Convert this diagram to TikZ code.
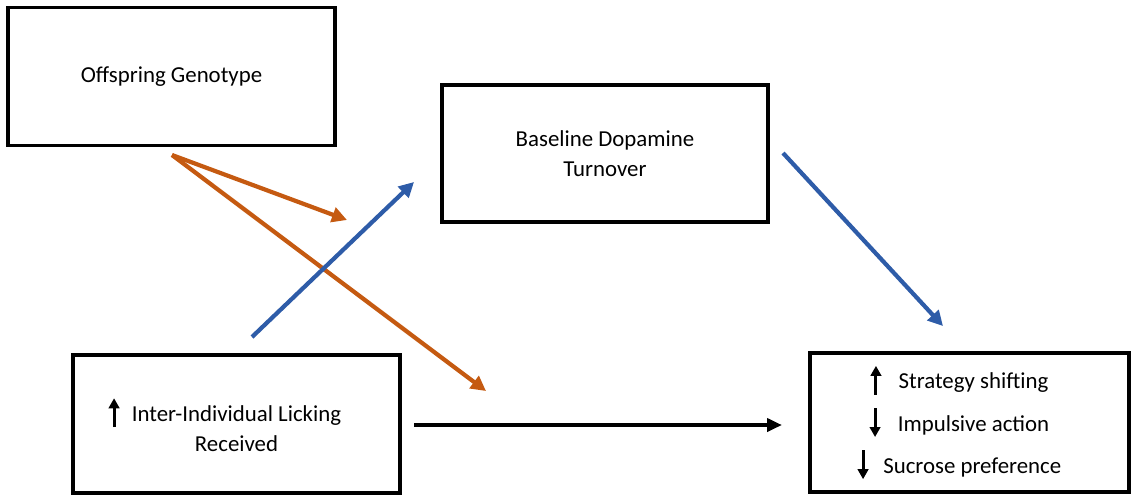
\documentclass[tikz,border=0pt]{standalone}
\usepackage{fontspec}
\setmainfont{Carlito}
\usepackage{tikz}
\usetikzlibrary{arrows.meta}
\definecolor{pathorange}{RGB}{197,90,17}
\definecolor{pathblue}{RGB}{46,92,168}
\tikzstyle{factor} = [rectangle, minimum width=6.54cm, minimum height=2.76cm, text centered, align=center, draw=black, line width=2pt, font=\fontsize{13}{17}\selectfont]
\tikzstyle{arrow} = [line width=2.4pt, -{Triangle[length=0.3cm,width=0.3cm]}]
\tikzstyle{updown} = [line width=1.7pt, -{Triangle[length=0.2cm,width=0.21cm]}]
\newcommand{\upa}{\tikz[baseline=0cm]\draw[updown] (0,-0.12cm) -- (0,0.46cm);}
\newcommand{\dna}{\tikz[baseline=0cm]\draw[updown] (0,0.46cm) -- (0,-0.12cm);}
\newcommand{\padr}{\rule{0.4cm}{0pt}}

\begin{document}
\begin{tikzpicture}[x=0.02cm, y=-0.02cm]
        \useasboundingbox (0,0) rectangle (1131,495);
        \node (geno) [factor] at (171.5,76.5) {Offspring Genotype};
        \node (dopa) [factor, minimum width=6.52cm, minimum height=2.74cm] at (605,153.5) {Baseline Dopamine\\Turnover};
        \node (lick) [factor] at (236.5,424) {\llap{\upa\hspace{0.25cm}}Inter-Individual Licking\\Received};
        \node (outc) [factor, minimum width=6.38cm, minimum height=2.78cm, font=\fontsize{13}{24}\selectfont] at (969.5,422.5) {\upa\hspace{0.35cm}Strategy shifting\padr\\\dna\hspace{0.35cm}Impulsive action\padr\\\dna\hspace{0.3cm}Sucrose preference\padr};
        % free ends of the paths
        \coordinate (genoout) at (172,155);
        \coordinate (modtip) at (347,220);
        \coordinate (genotip) at (486,391);
        \coordinate (lickout) at (252,337);
        \coordinate (dopatip) at (414,182);
        \coordinate (dopaout) at (783,153);
        \coordinate (outctip) at (943,326);
        \coordinate (lickright) at (414,425);
        \coordinate (outcleft) at (782,425);
        \draw [arrow, pathorange] (genoout) -- (modtip);
        \draw [arrow, pathorange] (genoout) -- (genotip);
        \draw [arrow, pathblue] (lickout) -- (dopatip);
        \draw [arrow, pathblue] (dopaout) -- (outctip);
        \draw [arrow, black, -{Triangle[length=0.3cm,width=0.26cm]}] (lickright) -- (outcleft);
    \end{tikzpicture}
\end{document}
